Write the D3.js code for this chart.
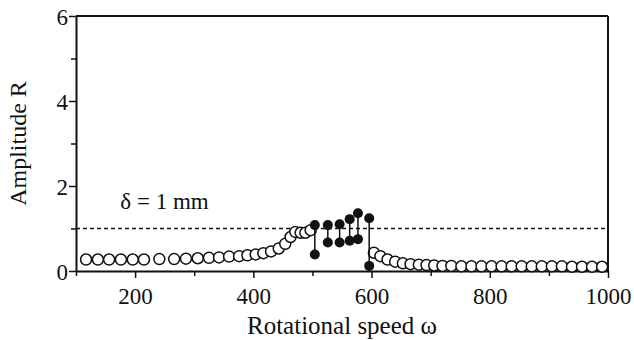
<!DOCTYPE html>
<html>
<head>
<meta charset="utf-8">
<script src="https://cdn.jsdelivr.net/npm/d3@7"></script>
<style>
  html, body { margin: 0; padding: 0; background: #fff; }
  svg { display: block; }
</style>
</head>
<body>
<svg id="chart" width="634" height="340"></svg>
<script>
// ---- data ----
const openSpeed = [117, 137, 156, 176, 196, 215, 241, 266, 286, 306, 325, 342, 359, 376, 390, 404, 417, 430, 443, 454, 463, 471, 480, 488, 497,
                   604, 615, 627, 640, 653, 666, 680, 693, 706, 720, 735, 752, 769, 786, 803, 820, 837, 854, 871, 888, 905, 922, 939, 956, 973, 990];
const openAmp   = [0.27, 0.27, 0.27, 0.27, 0.27, 0.27, 0.28, 0.28, 0.29, 0.30, 0.31, 0.32, 0.34, 0.35, 0.37, 0.39, 0.42, 0.46, 0.53, 0.64, 0.80, 0.92, 0.90, 0.90, 0.96,
                   0.43, 0.35, 0.27, 0.22, 0.18, 0.16, 0.15, 0.14, 0.13, 0.12, 0.12, 0.11, 0.11, 0.11, 0.11, 0.11, 0.11, 0.11, 0.11, 0.11, 0.11, 0.11, 0.10, 0.10, 0.10, 0.10];
const solidSpeed = [504, 526, 546, 563, 577, 596];
const solidUpper = [1.08, 1.08, 1.10, 1.22, 1.36, 1.24];
const solidLower = [0.39, 0.67, 0.67, 0.71, 0.75, 0.12];
const thresholdValue = 1;
const thresholdLabel = "δ = 1 mm";
const xTicks = [100, 200, 300, 400, 500, 600, 700, 800, 900, 1000];
const xLabels = [200, 400, 600, 800, 1000];
const yTicks = [0, 1, 2, 3, 4, 5, 6];
const yLabels = [0, 2, 4, 6];
const xTitle = "Rotational speed ω";
const yTitle = "Amplitude R";

// ---- layout ----
const FONT = "'Liberation Serif', 'Times New Roman', 'DejaVu Serif', serif";
const svg = d3.select("#chart").style("font-family", FONT);
const L = 76, R = 608, T = 16, B = 271;
const x = d3.scaleLinear().domain([100, 1000]).range([L, R]);
const y = d3.scaleLinear().domain([0, 6]).range([B, T]);
const ink = "#111";

// threshold dashed line
svg.append("line")
  .attr("x1", L).attr("x2", R)
  .attr("y1", y(thresholdValue)).attr("y2", y(thresholdValue))
  .attr("stroke", ink).attr("stroke-width", 1.3)
  .attr("stroke-dasharray", "4,3");

svg.append("text")
  .attr("x", x(175)).attr("y", 209)
  .style("font-family", FONT).style("font-size", "23px").attr("fill", ink)
  .text(thresholdLabel);

// frame (top & right)
svg.append("line").attr("x1", L).attr("x2", R).attr("y1", T).attr("y2", T)
  .attr("stroke", ink).attr("stroke-width", 2);
svg.append("line").attr("x1", R).attr("x2", R).attr("y1", T).attr("y2", B)
  .attr("stroke", ink).attr("stroke-width", 2);

// x axis
const xAxis = d3.axisBottom(x).tickValues(xTicks)
  .tickSizeOuter(0)
  .tickFormat(d => xLabels.includes(d) ? d : "");
const gx = svg.append("g").attr("transform", `translate(0,${B})`).call(xAxis)
  .attr("font-family", null).attr("font-size", null);
gx.select(".domain").attr("stroke", ink).attr("stroke-width", 2);
gx.selectAll(".tick line").attr("stroke", ink).attr("stroke-width", 1.5)
  .attr("y2", d => xLabels.includes(d) ? 7 : 5);
gx.selectAll(".tick text").style("font-family", FONT).style("font-size", "23px")
  .attr("fill", ink).attr("dy", null).attr("y", 33);

// y axis
const yAxis = d3.axisLeft(y).tickValues(yTicks)
  .tickSizeOuter(0)
  .tickFormat(d => yLabels.includes(d) ? d : "");
const gy = svg.append("g").attr("transform", `translate(${L},0)`).call(yAxis)
  .attr("font-family", null).attr("font-size", null);
gy.select(".domain").attr("stroke", ink).attr("stroke-width", 2);
gy.selectAll(".tick line").attr("stroke", ink).attr("stroke-width", 1.5)
  .attr("x2", d => yLabels.includes(d) ? -7 : -5);
gy.selectAll(".tick text").style("font-family", FONT).style("font-size", "23px")
  .attr("fill", ink).attr("x", -8).attr("dy", "0.35em");

// titles
svg.append("text")
  .attr("x", (L + R) / 2).attr("y", 334)
  .attr("text-anchor", "middle")
  .style("font-family", FONT).style("font-size", "25px").attr("fill", ink)
  .text(xTitle);
svg.append("text")
  .attr("transform", `translate(26,${(T + B) / 2}) rotate(-90)`)
  .attr("text-anchor", "middle")
  .style("font-family", FONT).style("font-size", "24px").attr("fill", ink)
  .text(yTitle);

// open circles
const openData = openSpeed.map((s, i) => ({ s, a: openAmp[i] }));
svg.append("g").selectAll("circle").data(openData).join("circle")
  .attr("cx", d => x(d.s)).attr("cy", d => y(d.a)).attr("r", 5.5)
  .attr("fill", "#fff").attr("stroke", ink).attr("stroke-width", 1.5);

// solid stems and dots
const solidData = solidSpeed.map((s, i) => ({ s, u: solidUpper[i], l: solidLower[i] }));
svg.append("g").selectAll("line").data(solidData).join("line")
  .attr("x1", d => x(d.s)).attr("x2", d => x(d.s))
  .attr("y1", d => y(d.u)).attr("y2", d => y(d.l))
  .attr("stroke", ink).attr("stroke-width", 1.5);
const dots = svg.append("g");
dots.selectAll("circle.u").data(solidData).join("circle").attr("class", "u")
  .attr("cx", d => x(d.s)).attr("cy", d => y(d.u)).attr("r", 5).attr("fill", ink);
dots.selectAll("circle.l").data(solidData).join("circle").attr("class", "l")
  .attr("cx", d => x(d.s)).attr("cy", d => y(d.l)).attr("r", 5).attr("fill", ink);
</script>
</body>
</html>
